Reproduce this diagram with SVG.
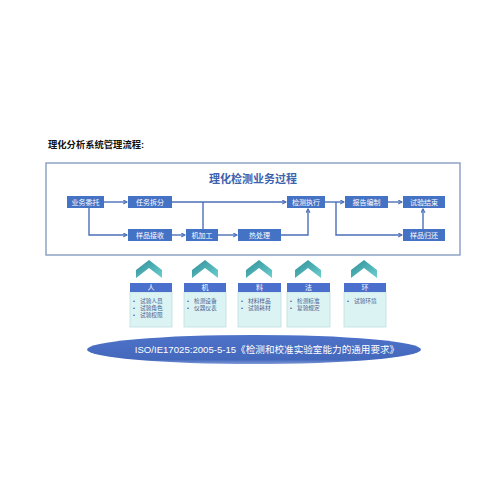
<svg xmlns="http://www.w3.org/2000/svg" width="500" height="500" viewBox="0 0 500 500">
<defs>
<style>
.cjk{font-family:"Liberation Sans","Noto Sans CJK SC",sans-serif;}
.box{fill:#4472c4;}
.bt{font-size:7px;fill:#ffffff;text-anchor:middle;dominant-baseline:central;}
.ln{fill:none;stroke:#4a6fb8;stroke-width:1.4;}
.hd{fill:#4a6fcc;}
.bd{fill:#dcf3f3;stroke:#bcdede;stroke-width:0.8;}
.ht{font-size:7px;fill:#ffffff;text-anchor:middle;dominant-baseline:central;}
.it{font-size:5.7px;fill:#4a6090;}
.chev{fill:url(#cg);}
</style>
<linearGradient id="cg" x1="0" y1="0" x2="1" y2="1">
<stop offset="0" stop-color="#2e8e98"/>
<stop offset="1" stop-color="#6ccfcf"/>
</linearGradient>
<linearGradient id="eg" x1="0" y1="0" x2="0" y2="1">
<stop offset="0" stop-color="#4d72c8"/>
<stop offset="0.85" stop-color="#4468bc"/>
<stop offset="1" stop-color="#7f9ad8"/>
</linearGradient>
<marker id="ar" viewBox="0 0 8 8" refX="7" refY="4" markerWidth="5" markerHeight="5" orient="auto" markerUnits="userSpaceOnUse">
<path d="M1,0.8 L7,4 L1,7.2" fill="none" stroke="#4a6fb8" stroke-width="1.8"/>
</marker>
</defs>
<rect width="500" height="500" fill="#ffffff"/>
<text class="cjk" x="48" y="148" font-size="9.3" font-weight="bold" fill="#111111">理化分析系统管理流程:</text>
<rect x="46" y="163" width="414" height="92" fill="#ffffff" stroke="#8fa3c6" stroke-width="1.5"/>
<text class="cjk" x="253" y="183" font-size="11" font-weight="bold" fill="#3d62ae" text-anchor="middle">理化检测业务过程</text>
<g id="connectors">
<path class="ln" d="M104,202 H127" marker-end="url(#ar)"/>
<path class="ln" d="M89,208 V235 H127" marker-end="url(#ar)"/>
<path class="ln" d="M172,202 H286" marker-end="url(#ar)"/>
<path class="ln" d="M203,202 V229"/>
<path class="ln" d="M172,235 H185" marker-end="url(#ar)"/>
<path class="ln" d="M218,235 H237" marker-end="url(#ar)"/>
<path class="ln" d="M281,235 H308 V209" marker-end="url(#ar)"/>
<path class="ln" d="M325,202 H344" marker-end="url(#ar)"/>
<path class="ln" d="M336,202 V235 H402" marker-end="url(#ar)"/>
<path class="ln" d="M388,202 H402" marker-end="url(#ar)"/>
<path class="ln" d="M423,229 V209" marker-end="url(#ar)"/>
</g>
<g id="n1"><rect class="box" x="67" y="196" width="37" height="12"/><text class="cjk bt" x="85.5" y="202">业务委托</text></g>
<g id="n2"><rect class="box" x="128" y="196" width="44" height="12"/><text class="cjk bt" x="150" y="202">任务拆分</text></g>
<g id="n3"><rect class="box" x="287" y="196" width="38" height="12"/><text class="cjk bt" x="306" y="202">检测执行</text></g>
<g id="n4"><rect class="box" x="345" y="196" width="43" height="12"/><text class="cjk bt" x="366.5" y="202">报告编制</text></g>
<g id="n5"><rect class="box" x="403" y="196" width="42" height="12"/><text class="cjk bt" x="424" y="202">试验结束</text></g>
<g id="n6"><rect class="box" x="128" y="229" width="44" height="12"/><text class="cjk bt" x="150" y="235">样品接收</text></g>
<g id="n7"><rect class="box" x="186" y="229" width="32" height="12"/><text class="cjk bt" x="202" y="235">机加工</text></g>
<g id="n8"><rect class="box" x="238" y="229" width="43" height="12"/><text class="cjk bt" x="259.5" y="235">热处理</text></g>
<g id="n9"><rect class="box" x="403" y="229" width="42" height="12"/><text class="cjk bt" x="424" y="235">样品归还</text></g>

<g id="c1">
<path class="chev" d="M149,260 L162,270 L162,278 L149,268 L136,278 L136,270 Z"/>
<rect class="bd" x="130" y="292" width="42" height="35"/>
<rect class="hd" x="130" y="283" width="42" height="9"/>
<text class="cjk ht" x="151" y="287.5">人</text>
<text class="cjk it" x="133" y="303">•</text><text class="cjk it" x="140" y="303">试验人员</text>
<text class="cjk it" x="133" y="310">•</text><text class="cjk it" x="140" y="310">试验角色</text>
<text class="cjk it" x="133" y="317">•</text><text class="cjk it" x="140" y="317">试验权限</text>
</g>
<g id="c2">
<path class="chev" d="M205,260 L218,270 L218,278 L205,268 L192,278 L192,270 Z"/>
<rect class="bd" x="184" y="292" width="42" height="35"/>
<rect class="hd" x="184" y="283" width="42" height="9"/>
<text class="cjk ht" x="205" y="287.5">机</text>
<text class="cjk it" x="187" y="303">•</text><text class="cjk it" x="194" y="303">检测设备</text>
<text class="cjk it" x="187" y="310">•</text><text class="cjk it" x="194" y="310">仪器仪表</text>
</g>
<g id="c3">
<path class="chev" d="M259,260 L272,270 L272,278 L259,268 L246,278 L246,270 Z"/>
<rect class="bd" x="238" y="292" width="43" height="35"/>
<rect class="hd" x="238" y="283" width="43" height="9"/>
<text class="cjk ht" x="259.5" y="287.5">料</text>
<text class="cjk it" x="241" y="303">•</text><text class="cjk it" x="248" y="303">材料样品</text>
<text class="cjk it" x="241" y="310">•</text><text class="cjk it" x="248" y="310">试验耗材</text>
</g>
<g id="c4">
<path class="chev" d="M308,260 L321,270 L321,278 L308,268 L295,278 L295,270 Z"/>
<rect class="bd" x="287" y="292" width="43" height="35"/>
<rect class="hd" x="287" y="283" width="43" height="9"/>
<text class="cjk ht" x="308.5" y="287.5">法</text>
<text class="cjk it" x="290" y="303">•</text><text class="cjk it" x="297" y="303">检测标准</text>
<text class="cjk it" x="290" y="310">•</text><text class="cjk it" x="297" y="310">复验规定</text>
</g>
<g id="c5">
<path class="chev" d="M364,260 L377,270 L377,278 L364,268 L351,278 L351,270 Z"/>
<rect class="bd" x="344" y="292" width="42" height="35"/>
<rect class="hd" x="344" y="283" width="42" height="9"/>
<text class="cjk ht" x="365" y="287.5">环</text>
<text class="cjk it" x="347" y="303">•</text><text class="cjk it" x="354" y="303">试验环境</text>
</g>
<g id="std">
<ellipse cx="254" cy="349.5" rx="167" ry="14.5" fill="url(#eg)"/>
<text class="cjk" x="267" y="352.8" font-size="9.6" fill="#ffffff" text-anchor="middle">ISO/IE17025:2005-5-15《检测和校准实验室能力的通用要求》</text>
</g>
</svg>
